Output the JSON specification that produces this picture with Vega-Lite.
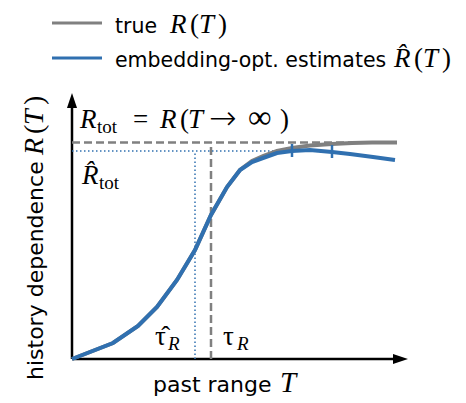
{
  "$schema": "https://vega.github.io/schema/vega-lite/v6.json",
  "autosize": "none",
  "width": 336,
  "height": 266,
  "padding": {"left": 72, "top": 93, "right": 58, "bottom": 44},
  "background": "white",
  "config": {"view": {"stroke": null}, "axis": {"disable": true}, "text": {"align": "left", "baseline": "alphabetic", "color": "black"}},
  "data": {"values": [{}]},
  "datasets": {
    "curves": [
      {"T": 0, "R": 0, "series": "true"},
      {"T": 41, "R": 16, "series": "true"},
      {"T": 66, "R": 33, "series": "true"},
      {"T": 85, "R": 52, "series": "true"},
      {"T": 105, "R": 79, "series": "true"},
      {"T": 123, "R": 109, "series": "true"},
      {"T": 139, "R": 144, "series": "true"},
      {"T": 155, "R": 172, "series": "true"},
      {"T": 168, "R": 189, "series": "true"},
      {"T": 180, "R": 198, "series": "true"},
      {"T": 191, "R": 203, "series": "true"},
      {"T": 205, "R": 208, "series": "true"},
      {"T": 220, "R": 211, "series": "true"},
      {"T": 238, "R": 213.5, "series": "true"},
      {"T": 260, "R": 215, "series": "true"},
      {"T": 280, "R": 216, "series": "true"},
      {"T": 300, "R": 216.5, "series": "true"},
      {"T": 325, "R": 216.5, "series": "true"},
      {"T": 0, "R": 0, "series": "est"},
      {"T": 41, "R": 16, "series": "est"},
      {"T": 66, "R": 33, "series": "est"},
      {"T": 85, "R": 52, "series": "est"},
      {"T": 105, "R": 79, "series": "est"},
      {"T": 123, "R": 109, "series": "est"},
      {"T": 139, "R": 144, "series": "est"},
      {"T": 155, "R": 172, "series": "est"},
      {"T": 168, "R": 189, "series": "est"},
      {"T": 180, "R": 197, "series": "est"},
      {"T": 191, "R": 201, "series": "est"},
      {"T": 205, "R": 206, "series": "est"},
      {"T": 220, "R": 208, "series": "est"},
      {"T": 238, "R": 209, "series": "est"},
      {"T": 260, "R": 207, "series": "est"},
      {"T": 278, "R": 205, "series": "est"},
      {"T": 301, "R": 202, "series": "est"},
      {"T": 323, "R": 199, "series": "est"}
    ]
  },
  "layer": [
    {"mark": {"type": "rule", "color": "black", "strokeWidth": 2.5},
     "encoding": {"x": {"datum": 0, "type": "quantitative", "scale": {"domain": [0, 336], "nice": false, "zero": false}, "axis": null}, "x2": {"datum": 323}, "y": {"datum": 0, "type": "quantitative", "scale": {"domain": [0, 266], "nice": false, "zero": false}, "axis": null}}},
    {"mark": {"type": "rule", "color": "black", "strokeWidth": 2.5},
     "encoding": {"x": {"datum": 0}, "y": {"datum": 0}, "y2": {"datum": 255}}},
    {"mark": {"type": "point", "filled": true, "color": "black", "opacity": 1, "size": 225, "shape": "M-1,-0.67L1,0L-1,0.67Z"},
     "encoding": {"x": {"datum": 328.5}, "y": {"datum": 0}}},
    {"mark": {"type": "point", "filled": true, "color": "black", "opacity": 1, "size": 225, "shape": "M-0.67,1L0,-1L0.67,1Z"},
     "encoding": {"x": {"datum": 0}, "y": {"datum": 258.5}}},
    {"mark": {"type": "rule", "color": "#808080", "strokeWidth": 2.5, "strokeDash": [8, 4]},
     "encoding": {"x": {"datum": 0}, "x2": {"datum": 325}, "y": {"datum": 216.5}}},
    {"mark": {"type": "rule", "color": "#808080", "strokeWidth": 2.5, "strokeDash": [8, 4]},
     "encoding": {"x": {"datum": 139}, "y": {"datum": 0}, "y2": {"datum": 216.5}}},
    {"mark": {"type": "rule", "color": "#3070b0", "strokeWidth": 1.5, "strokeDash": [1.5, 2.5]},
     "encoding": {"x": {"datum": 0}, "x2": {"datum": 215}, "y": {"datum": 208}}},
    {"mark": {"type": "rule", "color": "#3070b0", "strokeWidth": 1.5, "strokeDash": [1.5, 2.5]},
     "encoding": {"x": {"datum": 123}, "y": {"datum": 0}, "y2": {"datum": 208}}},
    {"data": {"name": "curves"}, "transform": [{"filter": "datum.series === 'true'"}],
     "mark": {"type": "line", "color": "#808080", "strokeWidth": 4},
     "encoding": {"x": {"field": "T", "type": "quantitative"}, "y": {"field": "R", "type": "quantitative"}}},
    {"data": {"name": "curves"}, "transform": [{"filter": "datum.series === 'est'"}],
     "mark": {"type": "line", "color": "#3070b0", "strokeWidth": 4},
     "encoding": {"x": {"field": "T", "type": "quantitative"}, "y": {"field": "R", "type": "quantitative"}}},
    {"mark": {"type": "rule", "color": "#3070b0", "strokeWidth": 2.5},
     "encoding": {"x": {"datum": 220}, "y": {"datum": 202}, "y2": {"datum": 215}}},
    {"mark": {"type": "rule", "color": "#3070b0", "strokeWidth": 2.5},
     "encoding": {"x": {"datum": 260}, "y": {"datum": 201}, "y2": {"datum": 214}}},

    {"mark": {"type": "rule", "color": "#808080", "strokeWidth": 3},
     "encoding": {"x": {"datum": -20}, "x2": {"datum": 30}, "y": {"datum": 336}}},
    {"mark": {"type": "rule", "color": "#3070b0", "strokeWidth": 3},
     "encoding": {"x": {"datum": -20}, "x2": {"datum": 30}, "y": {"datum": 301}}},
    {"mark": {"type": "text", "text": "true", "font": "DejaVu Sans", "fontSize": 20.5},
     "encoding": {"x": {"datum": 43}, "y": {"datum": 326}}},
    {"mark": {"type": "text", "text": "R", "font": "Liberation Serif", "fontStyle": "italic", "fontSize": 27},
     "encoding": {"x": {"datum": 98}, "y": {"datum": 326}}},
    {"mark": {"type": "text", "text": "(", "font": "Liberation Serif", "fontSize": 27},
     "encoding": {"x": {"datum": 118}, "y": {"datum": 326}}},
    {"mark": {"type": "text", "text": "T", "font": "Liberation Serif", "fontStyle": "italic", "fontSize": 27},
     "encoding": {"x": {"datum": 127}, "y": {"datum": 326}}},
    {"mark": {"type": "text", "text": ")", "font": "Liberation Serif", "fontSize": 27},
     "encoding": {"x": {"datum": 146}, "y": {"datum": 326}}},
    {"mark": {"type": "text", "text": "embedding-opt. estimates", "font": "DejaVu Sans", "fontSize": 20.5},
     "encoding": {"x": {"datum": 43}, "y": {"datum": 292}}},
    {"mark": {"type": "text", "text": "R̂", "font": "Liberation Serif", "fontStyle": "italic", "fontSize": 27},
     "encoding": {"x": {"datum": 322}, "y": {"datum": 292}}},
    {"mark": {"type": "text", "text": "(", "font": "Liberation Serif", "fontSize": 27},
     "encoding": {"x": {"datum": 342}, "y": {"datum": 292}}},
    {"mark": {"type": "text", "text": "T", "font": "Liberation Serif", "fontStyle": "italic", "fontSize": 27},
     "encoding": {"x": {"datum": 351}, "y": {"datum": 292}}},
    {"mark": {"type": "text", "text": ")", "font": "Liberation Serif", "fontSize": 27},
     "encoding": {"x": {"datum": 370}, "y": {"datum": 292}}},

    {"mark": {"type": "text", "text": "R", "font": "Liberation Serif", "fontStyle": "italic", "fontSize": 27},
     "encoding": {"x": {"datum": 8}, "y": {"datum": 231}}},
    {"mark": {"type": "text", "text": "tot", "font": "Liberation Serif", "fontSize": 19},
     "encoding": {"x": {"datum": 25}, "y": {"datum": 226}}},
    {"mark": {"type": "text", "text": "=", "font": "Liberation Serif", "fontSize": 27},
     "encoding": {"x": {"datum": 61}, "y": {"datum": 231}}},
    {"mark": {"type": "text", "text": "R", "font": "Liberation Serif", "fontStyle": "italic", "fontSize": 27},
     "encoding": {"x": {"datum": 88}, "y": {"datum": 231}}},
    {"mark": {"type": "text", "text": "(", "font": "Liberation Serif", "fontSize": 27},
     "encoding": {"x": {"datum": 108}, "y": {"datum": 231}}},
    {"mark": {"type": "text", "text": "T", "font": "Liberation Serif", "fontStyle": "italic", "fontSize": 27},
     "encoding": {"x": {"datum": 116}, "y": {"datum": 231}}},
    {"mark": {"type": "text", "text": "→", "font": "DejaVu Sans", "fontWeight": 200, "fontSize": 33},
     "encoding": {"x": {"datum": 137}, "y": {"datum": 230}}},
    {"mark": {"type": "text", "text": "∞", "font": "Liberation Serif", "fontSize": 33},
     "encoding": {"x": {"datum": 176}, "y": {"datum": 231}}},
    {"mark": {"type": "text", "text": ")", "font": "Liberation Serif", "fontSize": 27},
     "encoding": {"x": {"datum": 208}, "y": {"datum": 231}}},

    {"mark": {"type": "text", "text": "R̂", "font": "Liberation Serif", "fontStyle": "italic", "fontSize": 27},
     "encoding": {"x": {"datum": 10}, "y": {"datum": 175}}},
    {"mark": {"type": "text", "text": "tot", "font": "Liberation Serif", "fontSize": 19},
     "encoding": {"x": {"datum": 27}, "y": {"datum": 170}}},

    {"mark": {"type": "text", "text": "τ̂", "font": "Liberation Serif", "fontSize": 27},
     "encoding": {"x": {"datum": 83}, "y": {"datum": 14}}},
    {"mark": {"type": "text", "text": "R", "font": "Liberation Serif", "fontStyle": "italic", "fontSize": 19},
     "encoding": {"x": {"datum": 96}, "y": {"datum": 9}}},
    {"mark": {"type": "text", "text": "τ", "font": "Liberation Serif", "fontSize": 27},
     "encoding": {"x": {"datum": 151}, "y": {"datum": 14}}},
    {"mark": {"type": "text", "text": "R", "font": "Liberation Serif", "fontStyle": "italic", "fontSize": 19},
     "encoding": {"x": {"datum": 165}, "y": {"datum": 9}}},

    {"mark": {"type": "text", "text": "past range", "font": "DejaVu Sans", "fontSize": 22},
     "encoding": {"x": {"datum": 81}, "y": {"datum": -33}}},
    {"mark": {"type": "text", "text": "T", "font": "Liberation Serif", "fontStyle": "italic", "fontSize": 29},
     "encoding": {"x": {"datum": 208}, "y": {"datum": -33}}},

    {"mark": {"type": "text", "text": "history dependence", "font": "DejaVu Sans", "fontSize": 22, "angle": 270},
     "encoding": {"x": {"datum": -29}, "y": {"datum": -21}}},
    {"mark": {"type": "text", "text": "R", "font": "Liberation Serif", "fontStyle": "italic", "fontSize": 28, "angle": 270},
     "encoding": {"x": {"datum": -29}, "y": {"datum": 204}}},
    {"mark": {"type": "text", "text": "(", "font": "Liberation Serif", "fontSize": 28, "angle": 270},
     "encoding": {"x": {"datum": -29}, "y": {"datum": 225}}},
    {"mark": {"type": "text", "text": "T", "font": "Liberation Serif", "fontStyle": "italic", "fontSize": 28, "angle": 270},
     "encoding": {"x": {"datum": -29}, "y": {"datum": 234}}},
    {"mark": {"type": "text", "text": ")", "font": "Liberation Serif", "fontSize": 28, "angle": 270},
     "encoding": {"x": {"datum": -29}, "y": {"datum": 254}}}
  ]
}
